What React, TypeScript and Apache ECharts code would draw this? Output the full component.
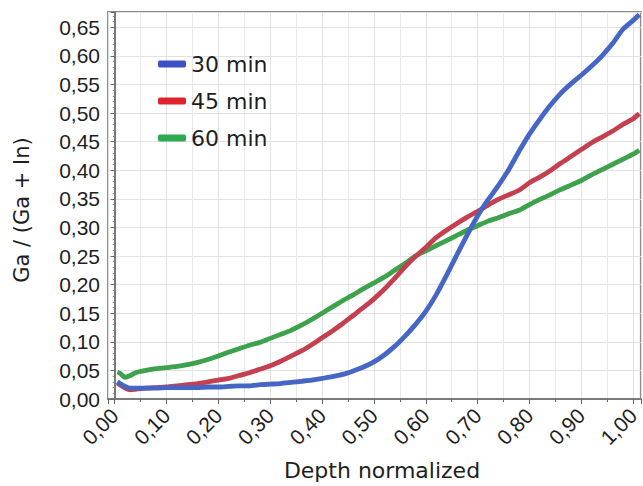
import React, { useEffect, useRef } from 'react';
import * as echarts from 'echarts';

const depth = [
  0.005, 0.01, 0.02, 0.03, 0.04, 0.06, 0.08, 0.1, 0.12, 0.14, 0.16, 0.18, 0.2, 0.22, 0.24, 0.26, 0.28, 0.3,
  0.32, 0.34, 0.36, 0.38, 0.4, 0.42, 0.44, 0.46, 0.48, 0.5, 0.52, 0.54, 0.56, 0.58, 0.6, 0.62, 0.64, 0.66,
  0.68, 0.7, 0.72, 0.74, 0.76, 0.78, 0.8, 0.82, 0.84, 0.86, 0.88, 0.9, 0.92, 0.94, 0.96, 0.98, 1.0, 1.012,
];

const min30 = [
  0.030, 0.027, 0.022, 0.019, 0.019, 0.019, 0.019, 0.020, 0.020, 0.020, 0.020, 0.021, 0.021, 0.022, 0.023, 0.023, 0.025, 0.026,
  0.027, 0.029, 0.031, 0.033, 0.036, 0.039, 0.043, 0.049, 0.056, 0.065, 0.077, 0.092, 0.110, 0.130, 0.153, 0.182, 0.216, 0.252,
  0.287, 0.320, 0.348, 0.373, 0.401, 0.433, 0.463, 0.489, 0.513, 0.534, 0.551, 0.566, 0.582, 0.600, 0.621, 0.646, 0.662, 0.672,
];

const min45 = [
  0.028, 0.025, 0.019, 0.016, 0.017, 0.019, 0.020, 0.021, 0.023, 0.025, 0.027, 0.030, 0.033, 0.036, 0.041, 0.046, 0.052, 0.058,
  0.066, 0.075, 0.084, 0.095, 0.107, 0.119, 0.132, 0.146, 0.160, 0.175, 0.192, 0.211, 0.231, 0.249, 0.265, 0.282, 0.295, 0.307,
  0.318, 0.328, 0.339, 0.349, 0.357, 0.365, 0.378, 0.388, 0.399, 0.412, 0.424, 0.436, 0.448, 0.458, 0.468, 0.480, 0.490, 0.499,
];

const min60 = [
  0.047, 0.045, 0.038, 0.041, 0.046, 0.050, 0.053, 0.055, 0.057, 0.060, 0.064, 0.069, 0.075, 0.082, 0.088, 0.094, 0.099, 0.106,
  0.113, 0.120, 0.129, 0.139, 0.150, 0.161, 0.172, 0.182, 0.193, 0.203, 0.213, 0.225, 0.237, 0.250, 0.259, 0.268, 0.277, 0.286,
  0.295, 0.303, 0.311, 0.317, 0.324, 0.330, 0.340, 0.349, 0.357, 0.366, 0.374, 0.382, 0.392, 0.401, 0.410, 0.419, 0.428, 0.435,
];

const seriesNames = ['30 min', '45 min', '60 min'];
const lineColors = ['#4566c4', '#c4404f', '#3ea14c'];
const legendColors = ['#3d4ec6', '#e0222e', '#2eaa52'];

const xTitle = 'Depth normalized';
const yTitle = 'Ga / (Ga + In)';

const fmt = (step: number) => (v: number) => {
  const r = v / step;
  if (Math.abs(r - Math.round(r)) > 1e-6) return '';
  return Math.abs(v).toFixed(2).replace('.', ',');
};

export default function App() {
  const ref = useRef<HTMLDivElement>(null);
  useEffect(() => {
    if (!ref.current) return;
    const chart = echarts.init(ref.current, undefined, { renderer: 'svg' });
    const pair = (vals: number[]) => depth.map((d, i) => [d, vals[i]]);
    const valuesList = [min30, min45, min60];
    const series = [2, 1, 0].map((i) => ({
      name: seriesNames[i],
      type: 'line',
      data: pair(valuesList[i]),
      showSymbol: false,
      smooth: 0.2,
      lineStyle: { width: 4.8, color: lineColors[i] },
      itemStyle: { color: lineColors[i] },
    }));
    chart.setOption({
      animation: false,
      backgroundColor: '#ffffff',
      grid: {
        left: 108,
        top: 12,
        right: 1,
        bottom: 87,
        show: true,
        backgroundColor: '#ffffff',
        borderColor: '#8c8c8c',
        borderWidth: 2,
      },
      legend: {
        orient: 'vertical',
        left: 153,
        top: 48,
        icon: 'roundRect',
        itemWidth: 28,
        itemHeight: 7,
        itemGap: 15,
        itemTextGap: 12,
        textStyle: { fontFamily: 'DejaVu Sans', fontSize: 22, color: '#1e1e1e' },
        data: seriesNames.map((n, i) => ({ name: n, itemStyle: { color: legendColors[i] } })),
      },
      xAxis: {
        type: 'value',
        min: -0.013,
        max: 1.015,
        splitNumber: 10,
        axisLine: { show: true, lineStyle: { color: '#7a7a7a', width: 2 } },
        axisTick: { show: true, length: 5, lineStyle: { color: '#666' } },
        minorTick: { show: true, splitNumber: 2, length: 3, lineStyle: { color: '#666' } },
        splitLine: { show: true, lineStyle: { color: '#e2e2e2', width: 1 } },
        minorSplitLine: { show: true, lineStyle: { color: '#e9e9e9', width: 1 } },
        axisLabel: {
          rotate: 45,
          margin: 13,
          fontFamily: 'Liberation Sans',
          fontSize: 21,
          color: '#1e1e1e',
          formatter: fmt(0.1),
        },
      },
      yAxis: {
        type: 'value',
        min: 0,
        max: 0.6766,
        interval: 0.05,
        axisLine: { show: true, lineStyle: { color: '#7a7a7a', width: 2 } },
        axisTick: { show: true, length: 4, lineStyle: { color: '#666' } },
        minorTick: { show: true, splitNumber: 5, length: 2, lineStyle: { color: '#888' } },
        splitLine: { show: true, lineStyle: { color: '#e2e2e2', width: 1 } },
        axisLabel: {
          margin: 8,
          fontFamily: 'Liberation Sans',
          fontSize: 21,
          color: '#1e1e1e',
          formatter: fmt(0.05),
        },
      },
      graphic: [
        {
          type: 'text',
          x: 382,
          y: 470,
          style: {
            text: xTitle,
            fontFamily: 'DejaVu Sans',
            fontSize: 22,
            fill: '#1e1e1e',
            textAlign: 'center',
            textVerticalAlign: 'middle',
          },
        },
        {
          type: 'text',
          x: 22,
          y: 210,
          rotation: Math.PI / 2,
          style: {
            text: yTitle,
            fontFamily: 'DejaVu Sans',
            fontSize: 21,
            fill: '#1e1e1e',
            textAlign: 'center',
            textVerticalAlign: 'middle',
          },
        },
      ],
      series,
    });
    return () => chart.dispose();
  }, []);
  return (
    <div
      ref={ref}
      style={{ position: 'fixed', left: 0, top: 0, width: 643, height: 486, background: '#fff' }}
    />
  );
}
